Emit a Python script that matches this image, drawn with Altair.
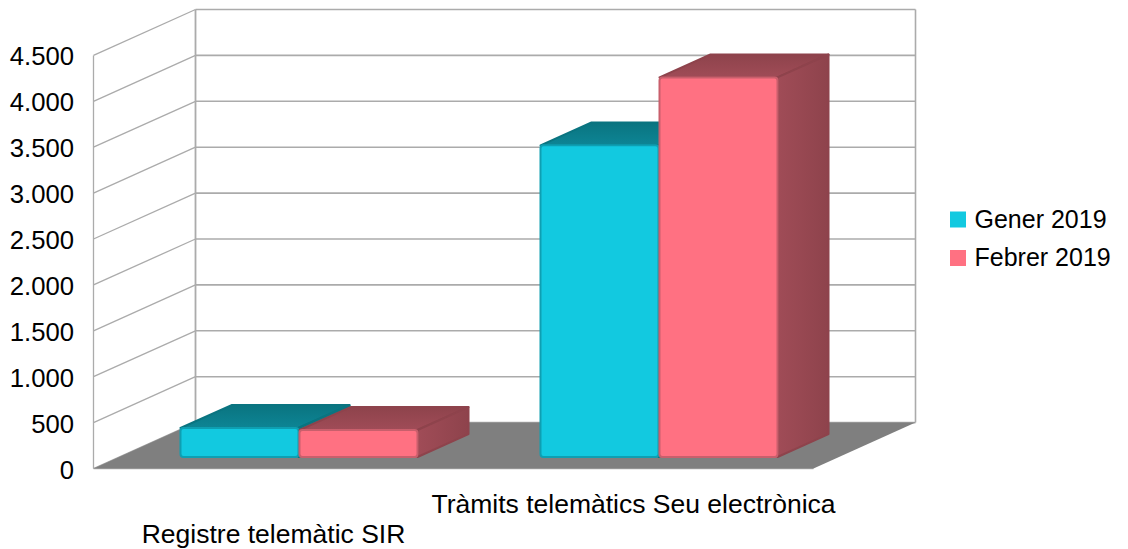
import altair as alt
import pandas as pd

categories = ["Registre telemàtic SIR", "Tràmits telemàtics Seu electrònica"]
series = ["Gener 2019", "Febrer 2019"]
gener = [316, 3395]
febrer = [294, 4135]
y_ticks = [0, 500, 1000, 1500, 2000, 2500, 3000, 3500, 4000, 4500]

FONT = "Liberation Sans"
CAT_PX = 360.0
WIDTH = 1025
HEIGHT = 459
XMAX = WIDTH / CAT_PX
YMAX = 5000
DX = 102 / CAT_PX   # depth of the floor, in category widths
DY = 500            # depth of the floor, in value units
FRONT_FILL = ["#12C9E0", "#FF7182"]
FRONT_STROKE = ["#0E9FB2", "#C95F6C"]
TOP_GRAD = [("#0D8595", "#0A7480"), ("#A04C57", "#8E434C")]
SIDE_GRAD = [("#0D8595", "#0A7480"), ("#A04C57", "#8E434C")]
GRID = "#ABABAB"

xs = alt.Scale(domain=[0, XMAX], range=[0, WIDTH], nice=False, zero=False)
ys = alt.Scale(domain=[0, YMAX], range=[HEIGHT, 0], nice=False, zero=False)
y_axis = alt.Axis(
    values=y_ticks, domain=False, ticks=False, grid=False, title=None,
    labelFont=FONT, labelFontSize=25.7, labelColor="#000000", labelPadding=20, labelOffset=1.5,
    labelExpr="replace(format(datum.value, ','), ',', '.')",
)
X = lambda f="x": alt.X(f"{f}:Q", scale=xs, axis=None)
Y = lambda f="y": alt.Y(f"{f}:Q", scale=ys, axis=y_axis)


def seg(points, width, color=GRID):
    df = pd.DataFrame(points, columns=["x", "y"])
    return alt.Chart(df).mark_line(color=color, strokeWidth=width, clip=False).encode(
        x=X(), y=Y(), order=alt.Order("i:Q")
    ).transform_window(i="row_number()")


def grad(c, horizontal=False):
    return alt.Gradient(
        gradient="linear",
        stops=[alt.GradientStop(color=c[0], offset=0), alt.GradientStop(color=c[1], offset=1)],
        x1=0, y1=1 if not horizontal else 0, x2=1 if horizontal else 0, y2=0,
    )


layers = []

# walls
for t in y_ticks[1:] + [YMAX]:
    layers.append(seg([(DX, t), (2 + DX, t)], 1.6))
for t in y_ticks:
    if t + DY < YMAX + 1:
        layers.append(seg([(0, t), (DX, t + DY)], 1.3))
layers.append(seg([(0, 0), (0, 4500)], 1.3))
layers.append(seg([(DX, DY), (DX, YMAX)], 1.8))
layers.append(seg([(2 + DX, DY), (2 + DX, YMAX)], 1.6))
layers.append(seg([(0, 0), (2, 0)], 1.6))

# floor
floor = pd.DataFrame({"y": [0, DY], "x": [0, DX], "x2": [2, 2 + DX]})
layers.append(
    alt.Chart(floor).mark_area(orient="horizontal", color="#7F7F7F", clip=False).encode(
        y=Y(), x=X(), x2="x2:Q"
    )
)

# bars
bar_w = 119 / CAT_PX
f0, f1 = 0.25, 0.75
for c_i in range(2):
    for s_i, vals in enumerate([gener, febrer]):
        v = vals[c_i]
        left = c_i + 0.5 + 26 / CAT_PX - bar_w + (s_i * bar_w)
        right = left + bar_w - 1 / CAT_PX
        # top face
        top = pd.DataFrame({
            "y": [v + f0 * DY, v + f1 * DY],
            "x": [left, left + (f1 - f0) * DX],
            "x2": [right, right + (f1 - f0) * DX],
        })
        layers.append(
            alt.Chart(top).mark_area(
                orient="horizontal", color=grad(TOP_GRAD[s_i]), clip=False,
                stroke=TOP_GRAD[s_i][1], strokeWidth=2, strokeJoin="round",
            ).encode(y=Y(), x=X(), x2="x2:Q")
        )
        # side face
        side = pd.DataFrame({
            "x": [right, right + (f1 - f0) * DX],
            "y": [v + f0 * DY, v + f1 * DY],
            "y2": [f0 * DY, f1 * DY],
        })
        layers.append(
            alt.Chart(side).mark_area(
                color=grad(SIDE_GRAD[s_i], True), clip=False,
                stroke=SIDE_GRAD[s_i][1], strokeWidth=2, strokeJoin="round",
            ).encode(x=X(), y=Y(), y2="y2:Q")
        )
        # front face
        front = pd.DataFrame({
            "x": [left], "x2": [right], "y": [v + f0 * DY], "y2": [f0 * DY],
            "serie": [series[s_i]],
        })
        layers.append(
            alt.Chart(front).mark_bar(
                stroke=FRONT_STROKE[s_i], strokeWidth=2, cornerRadius=3, clip=False,
            ).encode(
                x=X(), x2="x2:Q", y=Y(), y2="y2:Q",
                color=alt.Color(
                    "serie:N",
                    scale=alt.Scale(domain=series, range=FRONT_FILL),
                    legend=alt.Legend(
                        title=None, orient="none", legendX=852, legendY=197.5,
                        symbolType="square", symbolSize=256, symbolStrokeWidth=0,
                        labelFont=FONT, labelFontSize=25, labelColor="#000000",
                        rowPadding=12.5, labelOffset=4, padding=0, symbolOpacity=1,
                    ),
                ),
            )
        )

# staggered category labels
label_y = [525, 495]
for name, cx, py in zip(categories, [0.5, 1.5], label_y):
    layers.append(
        alt.Chart(pd.DataFrame({"x": [cx], "t": [name]})).mark_text(
            font=FONT, fontSize=26.5, color="#000000", align="center", baseline="middle",
            clip=False,
        ).encode(x=X(), y=alt.value(py), text="t:N")
    )

chart = alt.layer(*layers).properties(
    width=WIDTH, height=HEIGHT,
    padding={"left": 85.5, "top": 1.5, "right": 0, "bottom": 80},
    autosize=alt.AutoSizeParams(type="none"),
).configure_view(stroke=None)

chart.save("out.html", embed_options={"renderer": "svg", "actions": False})
